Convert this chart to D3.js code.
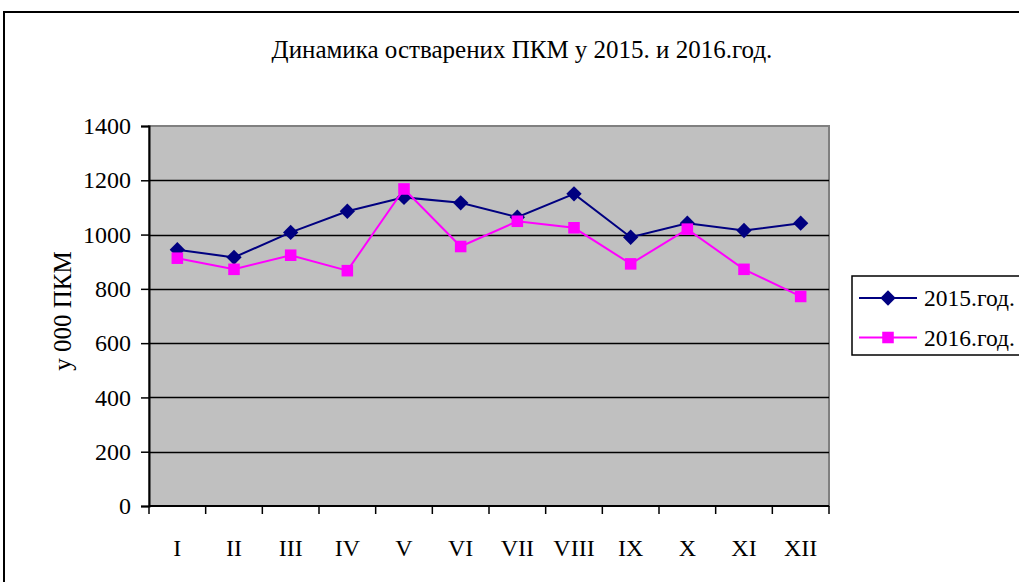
<!DOCTYPE html>
<html>
<head>
<meta charset="utf-8">
<script src="https://cdn.jsdelivr.net/npm/d3@7"></script>
<style>
  body { margin: 0; background: #fff; }
  svg text { font-family: "Liberation Serif", serif; fill: #000; }
</style>
</head>
<body>
<svg id="chart"></svg>
<script>
const months = ["I", "II", "III", "IV", "V", "VI", "VII", "VIII", "IX", "X", "XI", "XII"];
const values2015 = [944, 916, 1008, 1086, 1137, 1117, 1064, 1150, 990, 1042, 1015, 1042];
const values2016 = [913, 872, 924, 867, 1168, 956, 1049, 1025, 892, 1020, 872, 772];
const yTicks = [0, 200, 400, 600, 800, 1000, 1200, 1400];
const seriesNames = ["2015.год.", "2016.год."];

const width = 1019, height = 582;
const margin = { top: 126, right: 190, bottom: 76, left: 149 };
const innerW = width - margin.left - margin.right;
const innerH = height - margin.top - margin.bottom;
const serif = "'Liberation Serif', serif";

const series = [
  { name: seriesNames[0], values: values2015, color: "#000080", symbol: d3.symbolDiamond2, size: 150 },
  { name: seriesNames[1], values: values2016, color: "#ff00ff", symbol: d3.symbolSquare2, size: 170 }
];

const svg = d3.select("#chart")
  .attr("width", width)
  .attr("height", height);

// outer frame (runs past the right and bottom edges)
svg.append("rect")
  .attr("x", 4).attr("y", 12)
  .attr("width", 1030).attr("height", 590)
  .attr("fill", "none")
  .attr("stroke", "#000")
  .attr("stroke-width", 2);

svg.append("text")
  .attr("x", 522).attr("y", 58)
  .attr("text-anchor", "middle")
  .style("font-family", serif)
  .style("font-size", "25px")
  .text("Динамика остварених ПКМ у 2015. и 2016.год.");

const g = svg.append("g")
  .attr("transform", `translate(${margin.left},${margin.top})`);

const xBand = d3.scaleBand().domain(months).range([0, innerW]);
const xScale = d => xBand(d) + xBand.bandwidth() / 2;
const yScale = d3.scaleLinear().domain([0, 1400]).range([innerH, 0]);

// plot area
g.append("rect")
  .attr("width", innerW).attr("height", innerH)
  .attr("fill", "#c0c0c0")
  .attr("stroke", "#808080")
  .attr("stroke-width", 2);

// gridlines
g.append("g")
  .selectAll("line")
  .data(yTicks.filter(d => d > 0 && d < 1400))
  .join("line")
  .attr("x1", 0).attr("x2", innerW)
  .attr("y1", d => Math.round(yScale(d)) + 0.5)
  .attr("y2", d => Math.round(yScale(d)) + 0.5)
  .attr("stroke", "#000")
  .attr("stroke-width", 1.5);

// y axis
const yAxis = g.append("g")
  .call(d3.axisLeft(yScale).tickValues(yTicks).tickFormat(d3.format("d")).tickSize(8).tickPadding(10))
  .attr("font-family", serif)
  .attr("font-size", 24);
yAxis.select(".domain").attr("stroke", "#000").attr("stroke-width", 2);
yAxis.selectAll(".tick line").attr("stroke", "#000").attr("stroke-width", 1.5);
yAxis.selectAll("text")
  .style("font-size", "24px")
  .style("font-family", serif)
  .attr("fill", "#000");

// x axis: ticks on category boundaries, labels centred
const xAxis = g.append("g")
  .attr("transform", `translate(0,${innerH})`);
xAxis.append("line")
  .attr("x1", 0).attr("x2", innerW)
  .attr("stroke", "#000").attr("stroke-width", 2);
xAxis.selectAll(".xtick")
  .data(months.concat(["end"]))
  .join("line")
  .attr("class", "xtick")
  .attr("x1", (d, i) => i < months.length ? xBand(d) : innerW)
  .attr("x2", (d, i) => i < months.length ? xBand(d) : innerW)
  .attr("y1", 0).attr("y2", 8)
  .attr("stroke", "#000").attr("stroke-width", 1.5);
xAxis.selectAll(".xlabel")
  .data(months)
  .join("text")
  .attr("class", "xlabel")
  .attr("x", d => xScale(d))
  .attr("y", 50)
  .attr("text-anchor", "middle")
  .style("font-family", serif)
  .style("font-size", "24px")
  .text(d => d);

// y title
svg.append("text")
  .attr("transform", "translate(71,311) rotate(-90)")
  .attr("text-anchor", "middle")
  .style("font-family", serif)
  .style("font-size", "25px")
  .text("у 000 ПКМ");

const line = d3.line()
  .x((d, i) => xScale(months[i]))
  .y(d => yScale(d));

series.forEach(s => {
  g.append("path")
    .datum(s.values)
    .attr("fill", "none")
    .attr("stroke", s.color)
    .attr("stroke-width", 2)
    .attr("d", line);
  g.append("g")
    .selectAll("path")
    .data(s.values)
    .join("path")
    .attr("transform", (d, i) => `translate(${xScale(months[i])},${yScale(d)})`)
    .attr("d", d3.symbol().type(s.symbol).size(s.size))
    .attr("fill", s.color);
});

// legend
const legend = svg.append("g")
  .attr("transform", "translate(852,276)");
legend.append("rect")
  .attr("width", 200).attr("height", 79)
  .attr("fill", "#fff")
  .attr("stroke", "#000")
  .attr("stroke-width", 1.5);
const items = legend.selectAll(".legend-item")
  .data(series)
  .join("g")
  .attr("class", "legend-item")
  .attr("transform", (d, i) => `translate(0,${22 + i * 39.5})`);
items.append("line")
  .attr("x1", 7).attr("x2", 65)
  .attr("stroke", d => d.color)
  .attr("stroke-width", 2);
items.append("path")
  .attr("transform", "translate(36,0)")
  .attr("d", d => d3.symbol().type(d.symbol).size(d.size)())
  .attr("fill", d => d.color);
items.append("text")
  .attr("x", 72).attr("dy", "0.35em")
  .style("font-family", serif)
  .style("font-size", "23.5px")
  .text(d => d.name);
</script>
</body>
</html>
